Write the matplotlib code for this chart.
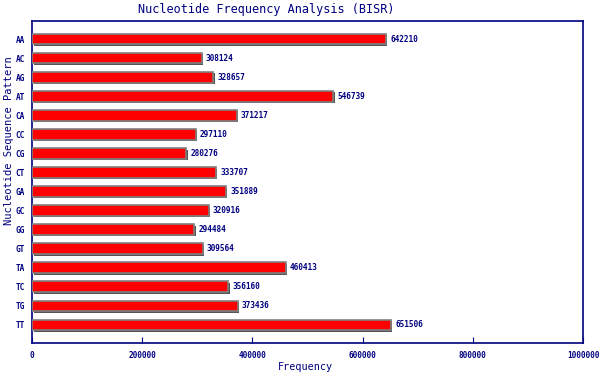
import matplotlib
matplotlib.use("Agg")
import matplotlib.pyplot as plt
from matplotlib.transforms import ScaledTranslation

categories = ["AA", "AC", "AG", "AT", "CA", "CC", "CG", "CT", "GA", "GC", "GG", "GT", "TA", "TC", "TG", "TT"]
values = [642210, 308124, 328657, 546739, 371217, 297110, 280276, 333707, 351889, 320916, 294484, 309564, 460413, 356160, 373436, 651506]
xticks = [0, 200000, 400000, 600000, 800000, 1000000]

navy = "#000080"
plt.rcParams['font.family'] = ['DejaVu Sans Mono']

fig = plt.figure(figsize=(6, 3.8), dpi=100)
ax = fig.add_axes([32/600, 1-343/380, (583-32)/600, (343-21)/380])

ypos = list(range(len(categories)))
h = 0.56
shadow_off = ScaledTranslation(1.5/100, -1.5/100, fig.dpi_scale_trans)
ax.barh(ypos, values, height=h, color="#555555", edgecolor="none",
        transform=ax.transData + shadow_off, zorder=2)
ax.barh(ypos, values, height=h, color="#ff0000", edgecolor="#808080", linewidth=1.2, zorder=3)

for y, v in zip(ypos, values):
    ax.annotate(str(v), (v, y), xytext=(3, 0), textcoords="offset points",
                va="center", ha="left", fontsize=5.6, color=navy, fontweight="bold")

ax.set_ylim(len(categories) - 0.05, -0.95)
ax.set_xlim(0, 1000000)
ax.set_yticks(ypos)
ax.set_yticklabels(categories, fontsize=5.6, color=navy, fontweight="bold")
ax.set_xticks(xticks)
ax.set_xticklabels([str(t) for t in xticks], fontsize=5.6, color=navy, fontweight="bold")
ax.tick_params(axis="y", length=0, pad=5)
ax.tick_params(axis="x", direction="in", length=4, color=navy, pad=6)
for s in ax.spines.values():
    s.set_color(navy)
    s.set_linewidth(1.2)

fig.text(305/600, 1-367/380, "Frequency", fontsize=7.3, color=navy, ha="center", va="center")
fig.text(9/600, 1-141/380, "Nucleotide Sequence Pattern", fontsize=7.5, color=navy,
         ha="center", va="center", rotation=90)
fig.text(266/600, 1-9/380, "Nucleotide Frequency Analysis (BISR)", fontsize=8.5, color=navy,
         ha="center", va="center")

fig.savefig("out.png", dpi=100)
